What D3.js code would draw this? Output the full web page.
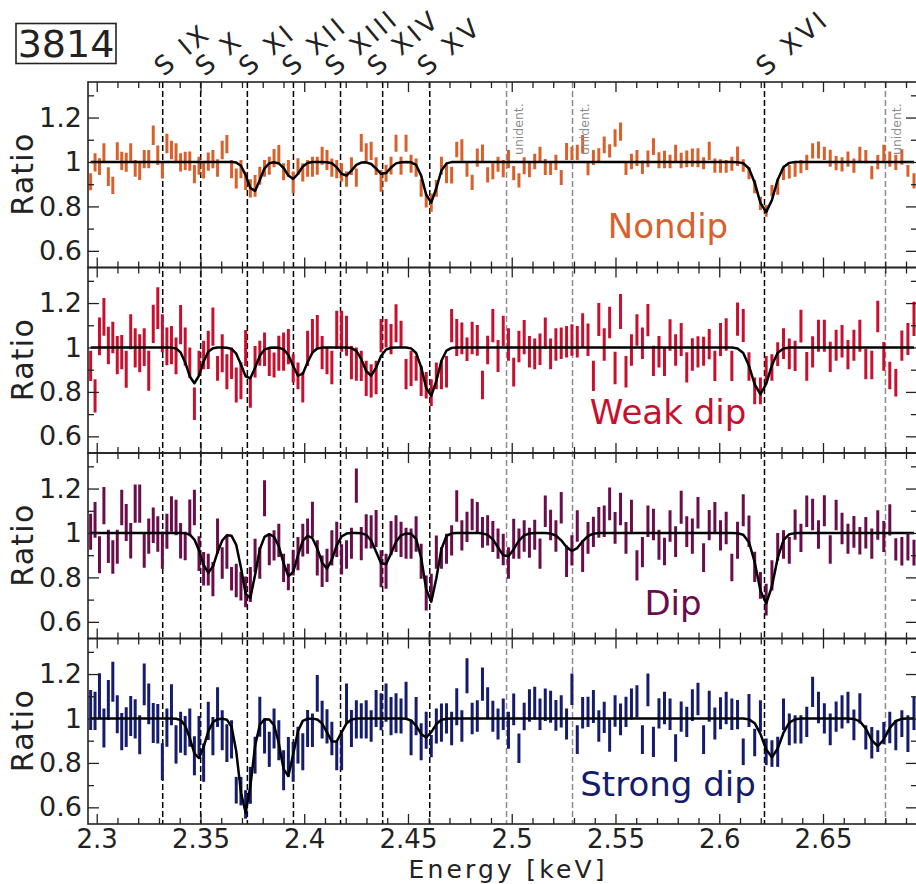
<!DOCTYPE html>
<html>
<head>
<meta charset="utf-8">
<script src="https://cdn.jsdelivr.net/npm/d3@7/dist/d3.min.js"></script>
<style>
  body { margin: 0; background: #fff; }
  svg { display: block; }
  text { font-family: "DejaVu Sans", sans-serif; }
</style>
</head>
<body>
<svg id="chart" width="916" height="884"></svg>
<script>
// ---- spectral binning: MEG grating bins, 0.005 Å wide -------------------
const HC = 12.39842; // keV·Å
const binLambda = d3.range(160).map(k => 5.3975 - 0.005 * k);
const binEnergy = binLambda.map(l => HC / l);

// ---- line identifications ------------------------------------------------
const ionNames  = ["S IX", "S X", "S XI", "S XII", "S XIII", "S XIV", "S XV", "S XVI"];
const ionEnergy = [2.3318, 2.3501, 2.3726, 2.3948, 2.4175, 2.4378, 2.4605, 2.6218];
const unidentEnergy = [2.4975, 2.5293, 2.6801];

// ---- axis ticks ----------------------------------------------------------
const xMajorTicks = [2.3, 2.35, 2.4, 2.45, 2.5, 2.55, 2.6, 2.65];
const xMinorTicks = d3.range(230, 270).filter(v => v % 5 !== 0).map(v => v / 100);
const yMajorTicks = [0.6, 0.8, 1, 1.2];
const yMinorTicks = [0.7, 0.9, 1.1, 1.3];

// ---- data/model ratio per dipping state ----------------------------------
const panelNames  = ["Nondip", "Weak dip", "Dip", "Strong dip"];
const panelColors = ["#d9602a", "#c8102e", "#6a0d4b", "#151c6c"];

const nondipRatio = [
  0.911,0.998,0.979,1.043,0.934,0.895,1.049,1.005,0.999,1.043,
  0.971,0.960,1.013,1.013,1.120,1.030,0.964,1.083,1.054,1.043,
  0.998,1.005,1.004,0.945,0.983,0.964,1.002,1.013,0.973,1.054,
  1.080,0.968,0.926,0.968,0.915,0.881,0.892,0.938,0.971,0.983,
  1.017,1.035,0.956,0.971,0.908,0.979,0.953,0.971,0.979,0.983,
  1.028,1.009,0.975,0.968,0.953,0.923,0.981,0.930,1.086,1.043,
  1.050,0.981,0.915,0.949,0.984,1.084,0.983,1.084,0.992,0.975,
  0.883,0.825,0.817,0.881,0.983,0.949,0.941,1.056,1.054,0.965,
  0.908,1.020,1.038,0.942,0.958,0.990,0.970,1.013,0.950,0.917,
  0.983,0.966,1.002,1.035,0.977,0.971,0.998,0.930,1.047,1.039,
  1.043,1.080,0.970,1.020,1.032,1.077,1.050,1.108,1.137,0.969,
  1.002,1.018,0.976,1.014,1.069,1.008,1.011,1.002,1.039,1.007,
  1.014,1.020,1.019,0.994,1.050,0.984,0.982,0.980,0.992,1.026,
  0.984,0.949,0.889,0.814,0.780,0.871,0.886,0.949,0.956,0.965,
  0.979,0.998,1.050,1.054,1.039,1.017,0.995,0.989,1.013,0.984,
  1.033,1.024,0.952,0.999,1.039,1.013,0.998,1.022,0.960,0.915
];
const nondipErr = [
  0.038,0.041,0.038,0.041,0.042,0.039,0.040,0.041,0.043,0.041,
  0.038,0.041,0.041,0.041,0.044,0.044,0.038,0.044,0.042,0.041,
  0.041,0.041,0.043,0.041,0.041,0.038,0.041,0.041,0.039,0.042,
  0.041,0.041,0.045,0.041,0.041,0.041,0.049,0.041,0.038,0.041,
  0.041,0.041,0.038,0.038,0.049,0.038,0.041,0.038,0.045,0.041,
  0.041,0.045,0.041,0.041,0.041,0.034,0.040,0.041,0.040,0.041,
  0.041,0.040,0.049,0.038,0.040,0.038,0.041,0.038,0.040,0.041,
  0.039,0.030,0.041,0.038,0.041,0.045,0.038,0.035,0.048,0.032,
  0.034,0.041,0.041,0.034,0.036,0.034,0.039,0.041,0.032,0.032,
  0.038,0.035,0.035,0.034,0.036,0.030,0.034,0.034,0.038,0.030,
  0.034,0.041,0.030,0.034,0.030,0.038,0.030,0.039,0.041,0.028,
  0.035,0.036,0.030,0.038,0.038,0.036,0.039,0.030,0.038,0.035,
  0.038,0.041,0.043,0.027,0.041,0.032,0.030,0.029,0.032,0.044,
  0.028,0.027,0.030,0.030,0.026,0.025,0.034,0.030,0.030,0.032,
  0.030,0.034,0.034,0.038,0.030,0.038,0.032,0.032,0.034,0.032,
  0.036,0.030,0.030,0.032,0.038,0.034,0.034,0.035,0.026,0.034
];

const weakRatio = [
  0.917,0.782,1.050,1.138,1.009,1.045,0.966,0.979,0.902,1.071,
  0.998,0.974,1.002,0.895,1.106,1.177,1.064,1.005,1.011,0.962,
  1.103,1.004,0.932,0.747,0.929,0.966,0.989,1.094,0.906,0.974,
  0.891,0.929,0.831,0.850,0.998,0.797,0.936,0.974,0.992,0.936,
  0.921,0.974,0.981,1.004,0.906,0.872,0.820,0.996,1.053,1.069,
  0.977,0.940,0.910,1.079,1.073,1.053,0.932,0.925,0.917,0.861,
  0.850,0.865,1.053,1.064,1.038,1.109,1.060,0.880,0.906,0.906,
  0.850,0.830,0.797,0.872,0.876,0.891,1.098,1.045,1.041,0.992,
  1.043,1.032,0.831,0.989,1.098,0.962,1.075,1.013,0.889,1.004,
  1.047,0.981,0.971,0.992,1.064,0.971,1.013,1.019,1.026,1.034,
  1.026,1.077,1.035,0.872,1.126,1.013,1.112,0.908,1.162,0.891,
  0.989,1.079,1.019,1.123,0.940,0.981,0.936,1.056,0.989,1.036,
  0.910,0.968,0.980,0.983,1.015,0.917,1.036,1.058,0.917,1.128,
  1.099,0.914,0.805,0.805,0.902,0.910,0.970,1.017,0.971,0.962,
  1.096,0.915,0.980,1.053,1.053,0.958,1.010,1.028,0.968,1.010,
  1.053,0.925,0.921,1.139,0.960,0.874,0.841,1.008,1.038,1.129
];
const weakErr = [
  0.068,0.075,0.085,0.085,0.084,0.071,0.086,0.077,0.083,0.079,
  0.088,0.086,0.085,0.090,0.086,0.094,0.086,0.085,0.086,0.083,
  0.088,0.086,0.068,0.073,0.056,0.064,0.086,0.086,0.056,0.086,
  0.079,0.071,0.079,0.083,0.081,0.068,0.071,0.056,0.075,0.064,
  0.056,0.079,0.086,0.079,0.064,0.060,0.068,0.079,0.075,0.077,
  0.075,0.060,0.075,0.086,0.092,0.090,0.075,0.075,0.068,0.079,
  0.075,0.075,0.075,0.064,0.068,0.086,0.060,0.068,0.079,0.056,
  0.068,0.060,0.060,0.060,0.064,0.071,0.075,0.083,0.071,0.053,
  0.073,0.069,0.064,0.064,0.075,0.072,0.068,0.073,0.065,0.071,
  0.077,0.071,0.069,0.071,0.071,0.069,0.073,0.071,0.071,0.071,
  0.071,0.077,0.073,0.068,0.074,0.073,0.071,0.073,0.079,0.071,
  0.071,0.071,0.071,0.073,0.068,0.071,0.064,0.071,0.071,0.074,
  0.068,0.073,0.070,0.065,0.068,0.068,0.074,0.073,0.068,0.075,
  0.074,0.064,0.060,0.060,0.060,0.060,0.053,0.069,0.069,0.068,
  0.074,0.065,0.070,0.072,0.072,0.068,0.070,0.073,0.066,0.070,
  0.072,0.068,0.064,0.071,0.065,0.062,0.062,0.068,0.072,0.077
];

const dipRatio = [
  1.006,1.059,0.902,1.123,0.940,0.892,0.938,1.115,1.047,0.965,
  1.132,1.132,0.924,0.986,1.035,0.995,0.922,1.008,1.085,1.070,
  0.965,0.941,1.068,1.115,0.907,0.839,0.835,0.792,0.986,0.865,
  0.914,0.794,0.786,0.760,0.735,0.768,0.899,0.865,1.156,0.926,
  0.944,0.967,0.843,0.802,0.867,0.907,0.968,0.986,1.061,0.888,
  0.828,0.854,0.933,0.971,0.881,0.903,0.954,1.213,0.952,1.007,
  1.005,1.020,0.839,0.828,0.977,0.997,0.971,0.954,0.952,0.995,
  0.873,0.730,0.760,0.914,0.888,0.929,0.967,1.121,0.989,1.027,
  1.083,1.068,1.003,1.012,0.984,0.952,0.926,0.865,0.974,0.952,
  0.986,0.956,0.992,0.907,1.098,1.036,0.986,1.114,0.873,0.922,
  1.031,0.895,0.978,1.005,1.048,1.053,1.131,1.023,1.108,0.978,
  1.077,0.854,0.914,1.053,1.038,0.947,0.917,1.031,0.961,1.116,
  1.006,0.986,1.091,0.889,1.035,1.068,0.989,1.022,0.845,0.967,
  1.102,1.008,0.847,0.764,0.700,0.809,0.938,0.948,0.922,1.038,
  0.978,1.098,1.083,0.993,1.100,0.926,1.081,1.020,0.974,1.005,
  0.965,1.001,0.952,1.036,0.984,1.059,0.926,0.918,0.938,0.912
];
const dipErr = [
  0.081,0.080,0.083,0.084,0.075,0.075,0.077,0.080,0.083,0.080,
  0.086,0.086,0.080,0.079,0.080,0.080,0.083,0.079,0.080,0.080,
  0.080,0.064,0.083,0.080,0.078,0.075,0.071,0.077,0.079,0.071,
  0.075,0.053,0.075,0.064,0.069,0.079,0.075,0.071,0.081,0.071,
  0.068,0.075,0.064,0.060,0.058,0.075,0.074,0.079,0.079,0.079,
  0.071,0.075,0.079,0.079,0.068,0.064,0.070,0.077,0.075,0.077,
  0.075,0.083,0.083,0.079,0.077,0.083,0.079,0.070,0.068,0.080,
  0.079,0.079,0.056,0.075,0.049,0.068,0.068,0.071,0.068,0.068,
  0.071,0.071,0.069,0.068,0.070,0.068,0.071,0.071,0.090,0.068,
  0.071,0.068,0.068,0.068,0.071,0.069,0.071,0.071,0.071,0.068,
  0.071,0.071,0.071,0.068,0.069,0.071,0.074,0.071,0.073,0.071,
  0.073,0.068,0.068,0.071,0.071,0.068,0.062,0.071,0.069,0.074,
  0.069,0.079,0.071,0.065,0.068,0.071,0.068,0.073,0.062,0.083,
  0.072,0.071,0.068,0.060,0.071,0.068,0.062,0.064,0.060,0.068,
  0.064,0.071,0.071,0.064,0.070,0.064,0.069,0.071,0.068,0.071,
  0.062,0.071,0.068,0.066,0.070,0.070,0.050,0.064,0.062,0.058
];

const strongRatio = [
  1.038,1.034,1.102,0.957,1.083,1.165,1.019,0.941,0.961,1.011,
  0.998,0.927,1.154,1.066,0.980,0.976,0.805,0.959,1.062,0.883,
  0.938,0.923,0.959,0.832,0.923,0.801,0.989,0.921,1.051,0.947,
  0.889,0.906,0.677,0.673,0.613,0.699,0.835,1.008,0.921,0.861,
  0.955,0.902,0.767,0.827,0.805,0.880,0.850,0.955,0.947,1.113,
  0.995,0.964,0.910,0.831,0.850,1.068,0.955,0.996,0.989,0.996,
  0.966,1.045,1.030,1.071,1.011,1.023,1.011,1.079,0.914,1.011,
  0.895,0.947,0.876,0.966,0.981,1.000,0.955,1.053,0.966,1.192,
  1.000,1.011,1.155,1.068,1.010,0.975,1.019,0.947,1.041,0.866,
  1.009,1.058,1.069,1.019,1.062,1.053,1.014,1.032,0.975,1.132,
  0.905,1.026,1.030,1.054,0.966,1.005,0.923,1.034,0.996,1.030,
  1.065,1.077,0.905,1.129,0.895,1.023,1.047,1.019,0.867,1.008,
  0.985,1.060,1.088,0.905,1.055,0.977,1.023,1.047,1.019,1.017,
  0.850,1.036,0.892,1.011,0.850,0.842,0.850,1.019,0.951,0.951,
  0.951,0.985,1.120,1.049,1.000,0.951,1.008,1.030,1.049,0.971,
  1.045,0.915,0.891,0.898,0.934,0.959,0.925,0.977,0.932,1.023
];
const strongErr = [
  0.090,0.086,0.102,0.088,0.090,0.090,0.086,0.084,0.089,0.090,
  0.088,0.088,0.094,0.092,0.090,0.089,0.083,0.086,0.092,0.086,
  0.092,0.088,0.086,0.088,0.088,0.086,0.086,0.086,0.089,0.090,
  0.085,0.086,0.060,0.064,0.064,0.083,0.083,0.090,0.079,0.079,
  0.090,0.090,0.090,0.090,0.090,0.083,0.083,0.083,0.075,0.083,
  0.085,0.077,0.075,0.064,0.083,0.090,0.083,0.086,0.079,0.086,
  0.071,0.083,0.083,0.086,0.086,0.090,0.079,0.086,0.079,0.086,
  0.083,0.083,0.050,0.079,0.086,0.068,0.075,0.083,0.071,0.079,
  0.071,0.071,0.075,0.072,0.070,0.070,0.071,0.083,0.071,0.066,
  0.062,0.073,0.074,0.071,0.073,0.072,0.069,0.073,0.070,0.071,
  0.065,0.071,0.068,0.074,0.071,0.070,0.073,0.071,0.071,0.068,
  0.070,0.073,0.065,0.074,0.068,0.068,0.073,0.071,0.062,0.068,
  0.068,0.071,0.073,0.065,0.070,0.072,0.072,0.073,0.071,0.066,
  0.060,0.074,0.062,0.071,0.060,0.060,0.068,0.071,0.071,0.064,
  0.064,0.068,0.068,0.071,0.068,0.071,0.068,0.075,0.071,0.069,
  0.068,0.055,0.071,0.049,0.050,0.071,0.068,0.060,0.083,0.075
];

// ---- best-fit absorption-line model (Gaussian lines on a unit continuum) --
const nondipLineE     = [2.3756, 2.3944, 2.4198, 2.4380, 2.4608, 2.6224];
const nondipLineDepth = [0.134, 0.077, 0.063, 0.056, 0.185, 0.226];
const nondipLineSigma = [0.0030, 0.0030, 0.0030, 0.0030, 0.0030, 0.0040];

const weakLineE     = [2.3470, 2.3732, 2.3978, 2.4319, 2.4608, 2.6198];
const weakLineDepth = [0.161, 0.143, 0.131, 0.128, 0.220, 0.210];
const weakLineSigma = [0.0033, 0.0033, 0.0033, 0.0033, 0.0033, 0.0040];

const dipLineE     = [2.3539, 2.3732, 2.3930, 2.4107, 2.4384, 2.4608, 2.4974, 2.5292, 2.6224];
const dipLineDepth = [0.179, 0.303, 0.198, 0.161, 0.146, 0.313, 0.108, 0.081, 0.318];
const dipLineSigma = [0.0036, 0.0032, 0.0034, 0.0034, 0.0036, 0.0031, 0.0040, 0.0040, 0.0040];

const strongLineE     = [2.3488, 2.3716, 2.3917, 2.4145, 2.4585, 2.6253, 2.6763];
const strongLineDepth = [0.180, 0.425, 0.265, 0.110, 0.086, 0.175, 0.125];
const strongLineSigma = [0.0033, 0.0030, 0.0030, 0.0033, 0.0033, 0.0040, 0.0040];

const panels = [
  { ratio: nondipRatio, err: nondipErr, lineE: nondipLineE, depth: nondipLineDepth, sigma: nondipLineSigma },
  { ratio: weakRatio,   err: weakErr,   lineE: weakLineE,   depth: weakLineDepth,   sigma: weakLineSigma },
  { ratio: dipRatio,    err: dipErr,    lineE: dipLineE,    depth: dipLineDepth,    sigma: dipLineSigma },
  { ratio: strongRatio, err: strongErr, lineE: strongLineE, depth: strongLineDepth, sigma: strongLineSigma }
];

// ---- layout ---------------------------------------------------------------
const plotLeft = 88, plotRight = 917, plotTop = 82, panelH = 185.5;
const labelCenterX = [668, 668, 673, 668];
const labelBaseline = [156, 156, 162, 157];
const ionLabelDx = [1, 4, 1, -2, -6, -6, -3, 1];
const ink = "#222";

const svg = d3.select("#chart");
const x = d3.scaleLinear().domain([2.2958, 2.6953]).range([plotLeft, plotRight]);
const plotBottom = plotTop + panelH * panels.length;

// dashed markers for identified and unidentified lines
svg.append("g").selectAll("line").data(ionEnergy).join("line")
  .attr("x1", d => x(d)).attr("x2", d => x(d))
  .attr("y1", plotTop).attr("y2", plotBottom)
  .attr("stroke", "#000").attr("stroke-width", 1.5).attr("stroke-dasharray", "6,3");
svg.append("g").selectAll("line").data(unidentEnergy).join("line")
  .attr("x1", d => x(d)).attr("x2", d => x(d))
  .attr("y1", plotTop).attr("y2", plotBottom)
  .attr("stroke", "#8c8c8c").attr("stroke-width", 1.5).attr("stroke-dasharray", "6,3");

panels.forEach((p, i) => {
  const y0 = plotTop + i * panelH;
  const y = d3.scaleLinear().domain([0.525, 1.36]).range([y0 + panelH, y0]);
  const g = svg.append("g");

  const clipId = "clip" + i;
  svg.append("clipPath").attr("id", clipId)
    .append("rect").attr("x", plotLeft).attr("y", y0).attr("width", plotRight - plotLeft).attr("height", panelH);

  const plot = g.append("g").attr("clip-path", `url(#${clipId})`);

  // error bars
  plot.selectAll("line.bar").data(p.ratio).join("line")
    .attr("class", "bar")
    .attr("x1", (d, k) => x(binEnergy[k])).attr("x2", (d, k) => x(binEnergy[k]))
    .attr("y1", (d, k) => y(d - p.err[k])).attr("y2", (d, k) => y(d + p.err[k]))
    .attr("stroke", panelColors[i]).attr("stroke-width", 3);

  // model evaluated per bin
  const model = binEnergy.map(e => {
    let m = 1;
    p.lineE.forEach((c, j) => {
      const z = (e - c) / p.sigma[j];
      m *= 1 - p.depth[j] * Math.exp(-0.5 * z * z);
    });
    return m;
  });
  plot.append("path").datum(model)
    .attr("fill", "none").attr("stroke", "#000").attr("stroke-width", 2.5)
    .attr("stroke-linejoin", "round")
    .attr("d", d3.line().x((d, k) => x(binEnergy[k])).y(d => y(d)));

  // inward ticks on all four sides
  const styleAxis = sel => {
    sel.select(".domain").remove();
    sel.selectAll(".tick line").attr("stroke", ink).attr("stroke-width", 1.3);
  };
  g.append("g").attr("transform", `translate(0,${y0 + panelH})`)
    .call(d3.axisTop(x).tickValues(xMajorTicks).tickSize(10).tickFormat("")).call(styleAxis);
  g.append("g").attr("transform", `translate(0,${y0 + panelH})`)
    .call(d3.axisTop(x).tickValues(xMinorTicks).tickSize(6).tickFormat("")).call(styleAxis);
  g.append("g").attr("transform", `translate(0,${y0})`)
    .call(d3.axisBottom(x).tickValues(xMajorTicks).tickSize(10).tickFormat("")).call(styleAxis);
  g.append("g").attr("transform", `translate(0,${y0})`)
    .call(d3.axisBottom(x).tickValues(xMinorTicks).tickSize(6).tickFormat("")).call(styleAxis);
  g.append("g").attr("transform", `translate(${plotLeft},0)`)
    .call(d3.axisRight(y).tickValues(yMajorTicks).tickSize(11).tickFormat("")).call(styleAxis);
  g.append("g").attr("transform", `translate(${plotLeft},0)`)
    .call(d3.axisRight(y).tickValues(yMinorTicks).tickSize(6).tickFormat("")).call(styleAxis);
  g.append("g").attr("transform", `translate(${plotRight},0)`)
    .call(d3.axisLeft(y).tickValues(yMajorTicks).tickSize(11).tickFormat("")).call(styleAxis);
  g.append("g").attr("transform", `translate(${plotRight},0)`)
    .call(d3.axisLeft(y).tickValues(yMinorTicks).tickSize(6).tickFormat("")).call(styleAxis);

  // y tick labels
  const yl = g.append("g").attr("transform", `translate(${plotLeft},0)`)
    .call(d3.axisLeft(y).tickValues(yMajorTicks).tickSize(0).tickPadding(6).tickFormat(d3.format("~g")));
  yl.select(".domain").remove();
  yl.selectAll("text").attr("font-size", 27).attr("fill", ink).attr("font-family", "DejaVu Sans");

  // y axis title
  g.append("text")
    .attr("transform", `translate(33,${y0 + panelH / 2}) rotate(-90)`)
    .attr("text-anchor", "middle").attr("font-size", 30).attr("fill", ink)
    .attr("textLength", 82).attr("lengthAdjust", "spacing")
    .text("Ratio");

  // state label
  g.append("text")
    .attr("x", labelCenterX[i]).attr("y", y0 + labelBaseline[i])
    .attr("text-anchor", "middle").attr("font-size", 34).attr("fill", panelColors[i])
    .text(panelNames[i]);

  // panel frame
  g.append("rect").attr("x", plotLeft).attr("y", y0).attr("width", plotRight - plotLeft).attr("height", panelH)
    .attr("fill", "none").attr("stroke", ink).attr("stroke-width", 1.6);
});

// x tick labels on the bottom panel
const xl = svg.append("g").attr("transform", `translate(0,${plotBottom})`)
  .call(d3.axisBottom(x).tickValues(xMajorTicks).tickSize(0).tickPadding(5.5).tickFormat(d3.format("~g")));
xl.select(".domain").remove();
xl.selectAll("text").attr("font-size", 26).attr("fill", ink).attr("font-family", "DejaVu Sans");

svg.append("text")
  .attr("x", (plotLeft + plotRight) / 2 + 4).attr("y", 877.5)
  .attr("text-anchor", "middle").attr("font-size", 25).attr("fill", ink)
  .attr("textLength", 196).attr("lengthAdjust", "spacing")
  .text("Energy [keV]");

// ion labels above the top panel
svg.append("g").selectAll("text").data(ionNames).join("text")
  .attr("transform", (d, j) => `translate(${x(ionEnergy[j]) + ionLabelDx[j]},77) rotate(-40)`)
  .attr("font-size", 26).attr("fill", ink).attr("letter-spacing", 3.5)
  .text(d => d);

// unidentified-line tags
svg.append("g").selectAll("text").data(unidentEnergy).join("text")
  .attr("transform", d => `translate(${x(d) + 16},155) rotate(-90)`)
  .attr("font-size", 12.5).attr("fill", "#8c8c8c")
  .text("unident.");

// observation id box
svg.append("rect").attr("x", 16).attr("y", 23.5).attr("width", 100).attr("height", 40)
  .attr("fill", "none").attr("stroke", ink).attr("stroke-width", 1.6);
svg.append("text").attr("x", 66).attr("y", 57).attr("text-anchor", "middle")
  .attr("font-family", "Liberation Sans, Arial, sans-serif").attr("font-size", 38).attr("fill", ink)
  .text("3814");
</script>
</body>
</html>
